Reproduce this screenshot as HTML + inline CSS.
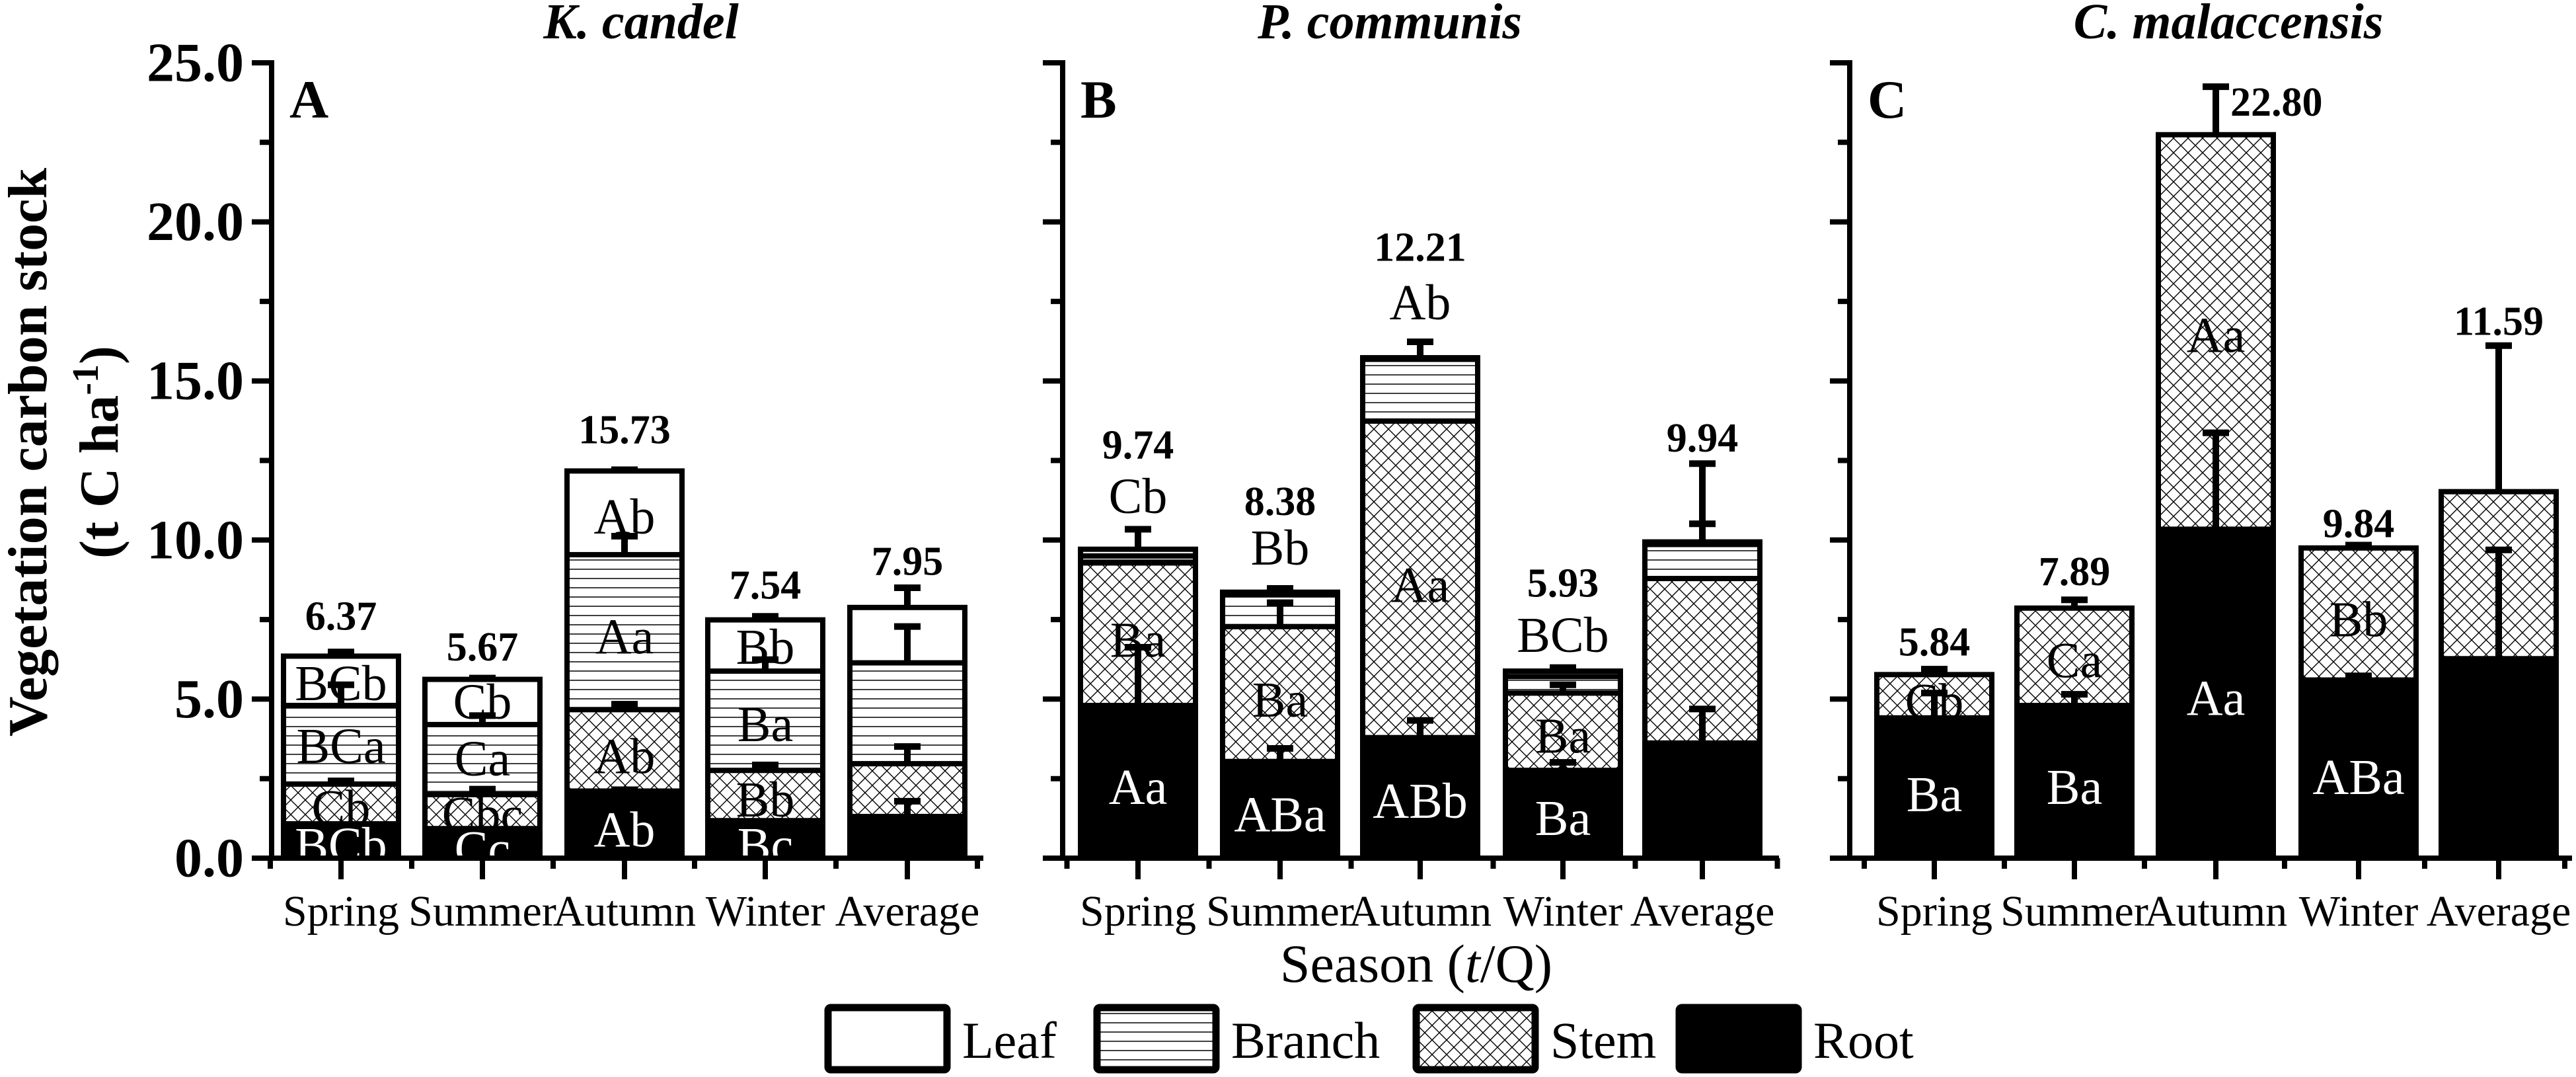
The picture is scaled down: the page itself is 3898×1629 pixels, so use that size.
<!DOCTYPE html>
<html><head><meta charset="utf-8">
<style>
html,body{margin:0;padding:0;background:#fff;}
svg, svg text{font-family:"Liberation Serif","DejaVu Serif","Times New Roman",serif;}
</style></head>
<body>
<svg id="chart" width="3898" height="1624" viewBox="0 0 3898 1624" xmlns="http://www.w3.org/2000/svg" font-family="Liberation Serif, DejaVu Serif, serif">
<defs>
<pattern id="hpat" patternUnits="userSpaceOnUse" width="20" height="14"><rect width="20" height="14" fill="#fff"/><line x1="0" y1="7" x2="20" y2="7" stroke="#000" stroke-width="1.6"/></pattern>
<pattern id="xpat" patternUnits="userSpaceOnUse" width="22" height="22"><rect width="22" height="22" fill="#fff"/><path d="M0,0L22,22M22,0L0,22" stroke="#000" stroke-width="1.4"/></pattern>
</defs>
<g id="root" font-family="Liberation Serif, DejaVu Serif, serif"></g>
</svg>
<script>
const categories = ["Spring","Summer","Autumn","Winter","Average"];
const yTicks = [0,5,10,15,20,25];
const yTickLabels = ["0.0","5.0","10.0","15.0","20.0","25.0"];
const panelTitles = ["K. candel","P. communis","C. malaccensis"];
const panelLetters = ["A","B","C"];
const rootA = [1.08,0.93,2.11,1.18,1.31];
const stemA = [1.25,1.07,2.56,1.58,1.66];
const branchA = [2.47,2.20,4.87,3.12,3.17];
const leafA = [1.55,1.42,2.63,1.61,1.74];
const rootB = [4.80,3.04,3.79,2.76,3.62];
const stemB = [4.48,4.24,9.95,2.43,5.17];
const branchB = [0.22,1.00,1.94,0.52,1.07];
const leafB = [0.21,0.08,0.05,0.17,0.08];
const rootC = [4.41,4.80,10.34,5.60,6.27];
const stemC = [1.36,3.06,12.40,4.15,5.25];
const branchC = [0,0,0,0,0];
const leafC = [0,0,0,0,0];
const rootSdA = [0,0,0.04,0,0.48];
const stemSdA = [0.10,0.17,0.17,0.17,0.54];
const branchSdA = [0.65,0.28,0.58,0.36,1.14];
const leafSdA = [0.13,0.04,0.04,0.11,0.62];
const rootSdB = [1.83,0.41,0.54,0.25,1.07];
const stemSdB = [0,0.75,0,0.26,0];
const branchSdB = [0,0,0,0,0.65];
const leafSdB = [0.63,0.12,0.50,0.11,2.46];
const rootSdC = [0.78,0.35,3.03,0.13,3.42];
const stemSdC = [0.17,0.26,1.51,0.09,4.59];
const totalsA = ["6.37","5.67","15.73","7.54","7.95"];
const totalsB = ["9.74","8.38","12.21","5.93","9.94"];
const totalsC = ["5.84","7.89","22.80","9.84","11.59"];
const totalPosA = [7.6,6.63,13.46,8.57,9.32];
const totalPosB = [12.98,11.2,19.19,8.63,13.2];
const totalPosC = [6.78,9.0,23.75,10.5,16.86];
const lettersA = [[0,5.49,"BCb",0],[0,3.51,"BCa",0],[0,1.57,"Cb",0],[0,0.39,"BCb",1],
 [1,4.9,"Cb",0],[1,3.12,"Ca",0],[1,1.36,"Cbc",0],[1,0.28,"Cc",1],
 [2,10.72,"Ab",0],[2,6.95,"Aa",0],[2,3.19,"Ab",0],[2,0.88,"Ab",1],
 [3,6.63,"Bb",0],[3,4.2,"Ba",0],[3,1.83,"Bb",0],[3,0.39,"Bc",1]];
const lettersB = [[0,11.37,"Cb",0],[0,6.85,"Ba",0],[0,2.22,"Aa",1],
 [1,9.75,"Bb",0],[1,4.97,"Ba",0],[1,1.36,"ABa",1],
 [2,17.46,"Ab",0],[2,8.57,"Aa",0],[2,1.79,"ABb",1],
 [3,7.0,"BCb",0],[3,3.83,"Ba",0],[3,1.25,"Ba",1]];
const lettersC = [[0,4.91,"Cb",0],[0,2.0,"Ba",1],
 [1,6.2,"Ca",0],[1,2.22,"Ba",1],
 [2,16.43,"Aa",0],[2,5.02,"Aa",1],
 [3,7.49,"Bb",0],[3,2.54,"ABa",1]];

const panels = [
 {x0:411,x1:1488,centers:[516,730,945,1158,1373],segs:[rootA,stemA,branchA,leafA],sds:[rootSdA,stemSdA,branchSdA,leafSdA],totals:totalsA,tpos:totalPosA,letters:lettersA,title:970,labels:true},
 {x0:1608,x1:2692,centers:[1722,1937,2149,2365,2576],segs:[rootB,stemB,branchB,leafB],sds:[rootSdB,stemSdB,branchSdB,leafSdB],totals:totalsB,tpos:totalPosB,letters:lettersB,title:2103,labels:false},
 {x0:2799,x1:3892,centers:[2927,3139,3353,3569,3781],segs:[rootC,stemC,branchC,leafC],sds:[rootSdC,stemSdC,[0,0,0,0,0],[0,0,0,0,0]],totals:totalsC,tpos:totalPosC,letters:lettersC,title:3372,labels:false}
];
const Y0=1298, Y1=95, YMAX=25;
function yScale(v){return Y0-(Y0-Y1)*v/YMAX;}
const NS="http://www.w3.org/2000/svg";
const FF='"Liberation Serif", "DejaVu Serif", "Times New Roman", serif';
const rootG=document.getElementById('root');
function mk(tag,attrs,parent,text){const e=document.createElementNS(NS,tag);for(const k in attrs)e.setAttribute(k,attrs[k]);if(tag==='text'){e.style.fontFamily=FF;}if(text!==undefined)e.textContent=text;(parent||rootG).appendChild(e);return e;}
const fills=["#000","url(#xpat)","url(#hpat)","#fff"];
const segNames=["root","stem","branch","leaf"];
const BW=174;
panels.forEach((p,pi)=>{
  const g=mk('g',{});
  
  
  p.centers.forEach((cx,ci)=>{
    let cum=0;
    for(let s=0;s<4;s++){
      const v=p.segs[s][ci];
      if(v<=0){continue;}
      const yt=yScale(cum+v), yb=yScale(cum);
      const r=mk('rect',{x:cx-BW/2,y:yt,width:BW,height:yb-yt,fill:fills[s],stroke:'#000','stroke-width':8},g);
      
      
      cum+=v;
    }
  });
  p.letters.forEach(L=>{
    const t=mk('text',{x:p.centers[L[0]],y:yScale(L[1]),'text-anchor':'middle','dominant-baseline':'central','font-size':76,fill:L[3]?'#fff':'#000'},g,L[2]);
    
    
  });
  p.centers.forEach((cx,ci)=>{
    let cum=0;
    for(let s=0;s<4;s++){
      cum+=p.segs[s][ci];
      const sd=p.sds[s][ci];
      if(sd>0){
        const ya=yScale(cum), yb=yScale(cum+sd);
        const e=mk('path',{d:`M${cx},${ya}V${yb}M${cx-20},${yb}H${cx+20}`,stroke:'#000','stroke-width':10,fill:'none'},g);
        
        
      }
    }
  });
  mk('rect',{x:p.x0-4,y:Y0+4,width:p.x1-p.x0+8,height:60,fill:'#fff'},g);
  p.totals.forEach((tx,ci)=>{
    let x=p.centers[ci], anchor='middle';
    if(pi===2&&ci===2){x=p.centers[ci]+22;anchor='start';}
    const t=mk('text',{x:x,y:yScale(p.tpos[ci]),'text-anchor':anchor,'dominant-baseline':'central','font-size':62,'font-weight':'bold'},g,tx);
    
    
  });
  const ax=mk('path',{d:`M${p.x0},${Y1-4}V${Y0}H${p.x1}`,stroke:'#000','stroke-width':8,fill:'none'},g);
  
  
  for(let v=0;v<=25;v+=2.5){
    const major=(v%5===0);
    mk('line',{x1:p.x0-(major?30:18),x2:p.x0,y1:yScale(v),y2:yScale(v),stroke:'#000','stroke-width':8},g);
  }
  if(p.labels){
    yTicks.forEach((v,i)=>{
      const t=mk('text',{x:p.x0-42,y:yScale(v),'text-anchor':'end','dominant-baseline':'central','font-size':84,'font-weight':'bold'},g,yTickLabels[i]);
      
      
    });
  }
  const step=p.centers[1]-p.centers[0];
  for(let i=0;i<=5;i++){const x=p.centers[0]-step/2+i*step; if(x<=p.x1+2) mk('line',{x1:x,x2:x,y1:Y0,y2:Y0+16,stroke:'#000','stroke-width':8},g);}
  p.centers.forEach((cx,ci)=>{
    mk('line',{x1:cx,x2:cx,y1:Y0,y2:Y0+32,stroke:'#000','stroke-width':8},g);
    const t=mk('text',{x:cx,y:1400,'text-anchor':'middle','font-size':66},g,categories[ci]);
    
    
  });
  const tt=mk('text',{x:p.title,y:58,'text-anchor':'middle','font-size':76,'font-weight':'bold','font-style':'italic'},g,panelTitles[pi]);
  
  
  const pl=mk('text',{x:p.x0+27,y:178,'font-size':82,'font-weight':'bold'},g,panelLetters[pi]);
  
  
});
const yt=mk('text',{transform:'translate(70,684) rotate(-90)','text-anchor':'middle','font-size':84,'font-weight':'bold'},rootG,'Vegetation carbon stock');


const yt2=mk('text',{transform:'translate(178,684) rotate(-90)','text-anchor':'middle','font-size':84,'font-weight':'bold'},rootG);


mk('tspan',{},yt2,'(t C ha');
mk('tspan',{dy:-30,'font-size':56},yt2,'-1');
mk('tspan',{dy:30},yt2,')');
const xt=mk('text',{x:2143,y:1485,'text-anchor':'middle','font-size':82},rootG);


mk('tspan',{},xt,'Season (');
mk('tspan',{'font-style':'italic'},xt,'t');
mk('tspan',{},xt,'/Q)');
const legX=[1248,1655,2138,2536];
const legNames=["Leaf","Branch","Stem","Root"];
const legFills=["#fff","url(#hpat)","url(#xpat)","#000"];
legNames.forEach((n,i)=>{
  const g=mk('g',{});
  
  
  mk('rect',{x:legX[i]+5,y:1524,width:180,height:94,fill:legFills[i],stroke:'#000','stroke-width':11,rx:4},g);
  mk('text',{x:legX[i]+208,y:1600,'font-size':78},g,n);
});
</script>
</body></html>
